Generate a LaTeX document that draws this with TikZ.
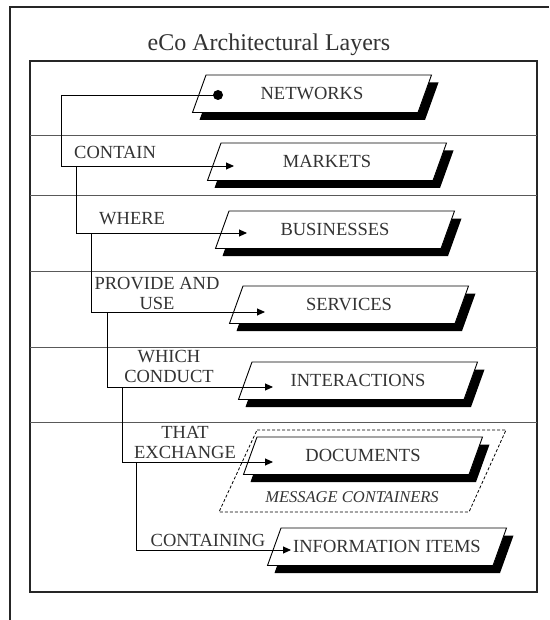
\documentclass[tikz,border=0pt]{standalone}
\usepackage{fontspec}
\setmainfont{Liberation Serif}
\usetikzlibrary{arrows.meta,calc}
\newcommand{\layerbox}[4]{%
  \fill[black] (#2+7,#3+7.5) -- ++(225.5,0) -- ++(-13.5,37.5) -- ++(-225.5,0) -- cycle;
  \filldraw[fill=white, draw=black, line width=0.9pt] (#2,#3) -- ++(225.5,0) -- ++(-13.5,37.5) -- ++(-225.5,0) -- cycle;
  \node[boxtext] (#1) at (#2+106,#3+18.75) {#4};
}
\begin{document}
\begin{tikzpicture}[x=1pt,y=-1pt,
  frame/.style={line width=1.2pt, draw=black!85},
  sep/.style={line width=1pt, draw=black!65},
  conn/.style={line width=0.9pt, draw=black},
  arr/.style={conn, -{Triangle[length=8pt,width=7pt]}},
  boxtext/.style={font=\fontsize{18.5}{20}\selectfont, text=black!80, inner sep=0pt},
  lbl/.style={font=\fontsize{18.5}{20}\selectfont, text=black!80, inner sep=0pt, align=center},
]
\useasboundingbox (0,0) rectangle (549,620);
\fill[white] (0,0) rectangle (549,620);
% page frame
\draw[frame] (549,7) -- (10,7) -- (10,620);
\node[font=\fontsize{24}{28}\selectfont, text=black!80, inner sep=0pt] (title) at (269,45) {eCo Architectural Layers};
% layer frame
\draw[frame] (30,61) rectangle (537,592);
\foreach \y in {136,196,271,347,422} \draw[sep] (30,\y) -- (537,\y);
% message containers
\draw[line width=0.8pt, dash pattern=on 3pt off 2pt] (257,430) -- (506,430) -- (469,512) -- (219,512) -- cycle;
\node[font=\fontsize{16.5}{18}\selectfont\itshape, text=black!80, inner sep=0pt] (msg) at (352,497) {MESSAGE CONTAINERS};
% boxes
\layerbox{net}{206}{75}{NETWORKS}
\layerbox{mkt}{221}{143}{MARKETS}
\layerbox{bus}{229}{211}{BUSINESSES}
\layerbox{srv}{243}{286}{SERVICES}
\layerbox{int}{252}{362}{INTERACTIONS}
\layerbox{doc}{257}{437}{DOCUMENTS}
\layerbox{inf}{281}{528}{INFORMATION ITEMS}
% connector points
\coordinate (netdot) at (218,95);
\coordinate (b1) at (61,95);
\coordinate (mkttip) at (234,166);
\coordinate (b2) at (76,166);
\coordinate (bustip) at (247,233);
\coordinate (b3) at (91,233);
\coordinate (srvtip) at (265,312);
\coordinate (b4) at (107,312);
\coordinate (inttip) at (273,387);
\coordinate (b5) at (122,387);
\coordinate (doctip) at (273,462);
\coordinate (b6) at (136,462);
\coordinate (inftip) at (291,550);
% connectors
\draw[conn] (netdot) -- (b1);
\draw[arr] (b1) |- (mkttip);
\draw[arr] (b2) |- (bustip);
\draw[arr] (b3) |- (srvtip);
\draw[arr] (b4) |- (inttip);
\draw[arr] (b5) |- (doctip);
\draw[arr] (b6) |- (inftip);
\fill (netdot) circle (5pt);
% labels
\node[lbl, anchor=west] (contain) at (74,152.7) {CONTAIN};
\node[lbl, anchor=west] (where) at (99,219) {WHERE};
\node[lbl] (provide) at (157,293) {PROVIDE AND\\USE};
\node[lbl] (which) at (169,366.4) {WHICH\\CONDUCT};
\node[lbl] (that) at (185,442.5) {THAT\\EXCHANGE};
\node[lbl] (containing) at (208,540.5) {CONTAINING};
\end{tikzpicture}
\end{document}
